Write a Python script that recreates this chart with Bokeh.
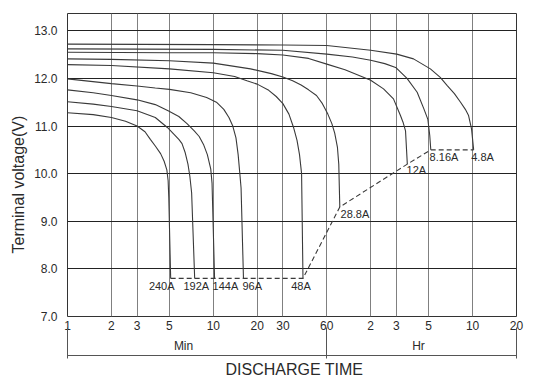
from bokeh.plotting import figure
from bokeh.models import FixedTicker, ColumnDataSource, PrintfTickFormatter, LogAxis, Title
from bokeh.core.properties import value
from bokeh.embed import file_html
from bokeh.resources import INLINE

# ---------------- data (minutes, volts) ----------------
curve_names = ["240A", "192A", "144A", "96A", "48A", "28.8A", "12A", "8.16A", "4.8A"]

t_240 = [1, 1.5, 2, 2.5, 3, 3.4, 3.7, 4.0, 4.35, 4.6, 4.8, 4.9, 4.95, 5.1]
v_240 = [11.28, 11.24, 11.18, 11.1, 11.0, 10.88, 10.72, 10.58, 10.42, 10.26, 10.08, 9.85, 9.5, 7.8]

t_192 = [1, 1.5, 2, 3, 4, 4.84, 5.4, 5.8, 6.1, 6.4, 6.7, 6.9, 7.1, 7.45]
v_192 = [11.51, 11.46, 11.41, 11.32, 11.18, 10.97, 10.82, 10.72, 10.63, 10.45, 10.2, 9.95, 9.6, 7.8]

t_144 = [1, 1.5, 2, 3, 4, 4.9, 5.8, 6.6, 7.4, 8.0, 8.6, 9.1, 9.6, 9.8, 10.2]
v_144 = [11.76, 11.7, 11.64, 11.55, 11.45, 11.32, 11.2, 11.05, 10.9, 10.78, 10.6, 10.4, 10.1, 9.8, 7.8]

t_96 = [1, 2, 3, 4, 5, 7, 9, 10.5, 11.8, 12.8, 13.6, 14.3, 14.8, 15.2, 15.5, 16.1]
v_96 = [11.99, 11.89, 11.84, 11.8, 11.77, 11.7, 11.6, 11.5, 11.35, 11.18, 11.0, 10.75, 10.4, 10.0, 9.7, 7.8]

t_48 = [1, 2, 5, 10, 14, 17, 20, 24, 27, 30, 33, 35.5, 37.5, 39, 40.3, 41.2]
v_48 = [12.29, 12.27, 12.2, 12.12, 12.04, 11.95, 11.88, 11.75, 11.62, 11.47, 11.25, 10.97, 10.7, 10.4, 10.0, 7.8]

t_288 = [1, 2, 5, 10, 18, 25, 30, 35, 40, 45, 51, 56, 61, 65, 68, 71, 72.5, 73.7]
v_288 = [12.41, 12.4, 12.37, 12.32, 12.2, 12.1, 12.03, 11.95, 11.86, 11.76, 11.64, 11.47, 11.25, 11.05, 10.85, 10.55, 10.2, 9.3]

t_12 = [1, 5, 10, 20, 30, 45, 60, 80, 100, 120, 147, 172, 192, 200, 208, 214]
v_12 = [12.55, 12.54, 12.54, 12.52, 12.49, 12.42, 12.3, 12.18, 12.06, 11.96, 11.78, 11.57, 11.22, 11.08, 10.9, 10.2]

t_816 = [1, 10, 30, 60, 90, 120, 150, 178, 213, 250, 278, 296, 305, 310]
v_816 = [12.62, 12.61, 12.59, 12.51, 12.45, 12.38, 12.31, 12.23, 12.0, 11.71, 11.36, 11.14, 10.8, 10.5]

t_48h = [1, 10, 30, 60, 120, 181, 236, 308, 360, 402, 450, 496, 535, 563, 590, 610]
v_48h = [12.72, 12.71, 12.70, 12.69, 12.59, 12.51, 12.41, 12.2, 12.02, 11.85, 11.68, 11.5, 11.35, 11.22, 10.94, 10.5]

x_ticks = [1, 2, 3, 5, 10, 20, 30, 60, 120, 180, 300, 600, 1200]
x_tick_labels = ["1", "2", "3", "5", "10", "20", "30", "60", "2", "3", "5", "10", "20"]
y_ticks = [7, 8, 9, 10, 11, 12, 13]
span_edges = [1, 60, 1200]          # Min | Hr span boundaries (minutes)

x_title = "DISCHARGE  TIME"
y_title = "Terminal voltage(V)"
min_text = "Min"
hr_text = "Hr"

# ---------------- layout / styles ----------------
FONT = "Liberation Sans"
INK = "#2a2a2a"
CURVE = "#3a3a3a"
AR = "#555555"

curves_t = [t_240, t_192, t_144, t_96, t_48, t_288, t_12, t_816, t_48h]
curves_v = [v_240, v_192, v_144, v_96, v_48, v_288, v_12, v_816, v_48h]

p = figure(x_axis_type="log", x_range=(1, 1200), y_range=(7.0, 13.363),
           frame_width=449, frame_height=303,
           min_border_left=67, min_border_top=13, min_border_right=23, min_border_bottom=64,
           output_backend="svg", toolbar_location=None)
p.background_fill_color = "white"
p.border_fill_color = "white"
p.outline_line_color = "#333333"
p.outline_line_width = 1

xt = FixedTicker(ticks=x_ticks, minor_ticks=[])
yt = FixedTicker(ticks=y_ticks, minor_ticks=[])
p.xaxis.ticker = xt
p.yaxis.ticker = yt
p.xgrid.ticker = xt
p.ygrid.ticker = yt
p.xgrid.grid_line_color = "#808080"
p.xgrid.grid_line_width = 1
p.ygrid.grid_line_color = "#222222"
p.ygrid.grid_line_width = 1

p.xaxis.major_label_overrides = {t: lab for t, lab in zip(x_ticks, x_tick_labels)}
p.yaxis.formatter = PrintfTickFormatter(format="%.1f")

def plain(ax, size="12px"):
    ax.axis_line_color = None
    ax.major_tick_line_color = None
    ax.minor_tick_line_color = None
    ax.major_tick_out = 0
    ax.major_tick_in = 0
    ax.major_label_text_font = FONT
    ax.major_label_text_font_size = size
    ax.major_label_text_color = INK

plain(p.xaxis[0])
plain(p.yaxis[0])
p.xaxis.major_label_standoff = 4
p.yaxis.major_label_standoff = 10

# second row below: "Min" / "Hr" placed at the middle of their spans
min_pos = 6.25
hr_pos = 255.5
ax_mh = LogAxis(ticker=FixedTicker(ticks=[min_pos, hr_pos], minor_ticks=[]))
plain(ax_mh)
ax_mh.major_label_overrides = {min_pos: min_text, hr_pos: hr_text}
ax_mh.major_label_standoff = 6
p.add_layout(ax_mh, "below")

# third row: dimension line with boundary ticks
ax_dim = LogAxis(ticker=FixedTicker(ticks=span_edges, minor_ticks=[]))
ax_dim.axis_line_color = AR
ax_dim.axis_line_width = 1
ax_dim.major_tick_line_color = AR
ax_dim.major_tick_in = 28
ax_dim.major_tick_out = 3
ax_dim.minor_tick_line_color = None
ax_dim.major_label_overrides = {t: "" for t in span_edges}
ax_dim.major_label_text_font_size = "0px"
ax_dim.major_label_standoff = 0
p.add_layout(ax_dim, "below")

# x title
p.add_layout(Title(text=x_title, align="left", offset=158, text_font=FONT, text_font_size="16px",
                   text_font_style="normal", text_color=INK, standoff=0), "below")
# y title
p.add_layout(Title(text=y_title, align="left", offset=63, text_font=FONT, text_font_size="16px",
                   text_font_style="normal", text_color=INK, standoff=10), "left")

# curves
for t, v in zip(curves_t, curves_v):
    p.line(t, v, line_color=CURVE, line_width=1.1)

# dashed end-voltage line through selected end points
dash_idx = [0, 4, 5, 6, 7, 8]
dash_x = [curves_t[i][-1] for i in dash_idx]
dash_y = [curves_v[i][-1] for i in dash_idx]
p.line(dash_x, dash_y, line_color=CURVE, line_width=1.1, line_dash="5 3")

# curve labels placed relative to end points
lab_dx = [-21.8, -11.2, -2, -1, -11.8, 0.7, -0.8, -1.2, -2.4]
lab_dy = [7.9, 7.9, 7.9, 7.9, 7.9, 6.9, 6.2, 6.9, 6.9]
src = ColumnDataSource(dict(x=[c[-1] for c in curves_t], y=[c[-1] for c in curves_v],
                            text=curve_names, dx=lab_dx, dy=lab_dy))
p.text(x="x", y="y", text="text", x_offset="dx", y_offset="dy", source=src,
       text_font=value(FONT), text_font_size="11px", text_color=INK,
       text_align="left", text_baseline="middle")

open("out.html", "w").write(file_html(p, INLINE))
